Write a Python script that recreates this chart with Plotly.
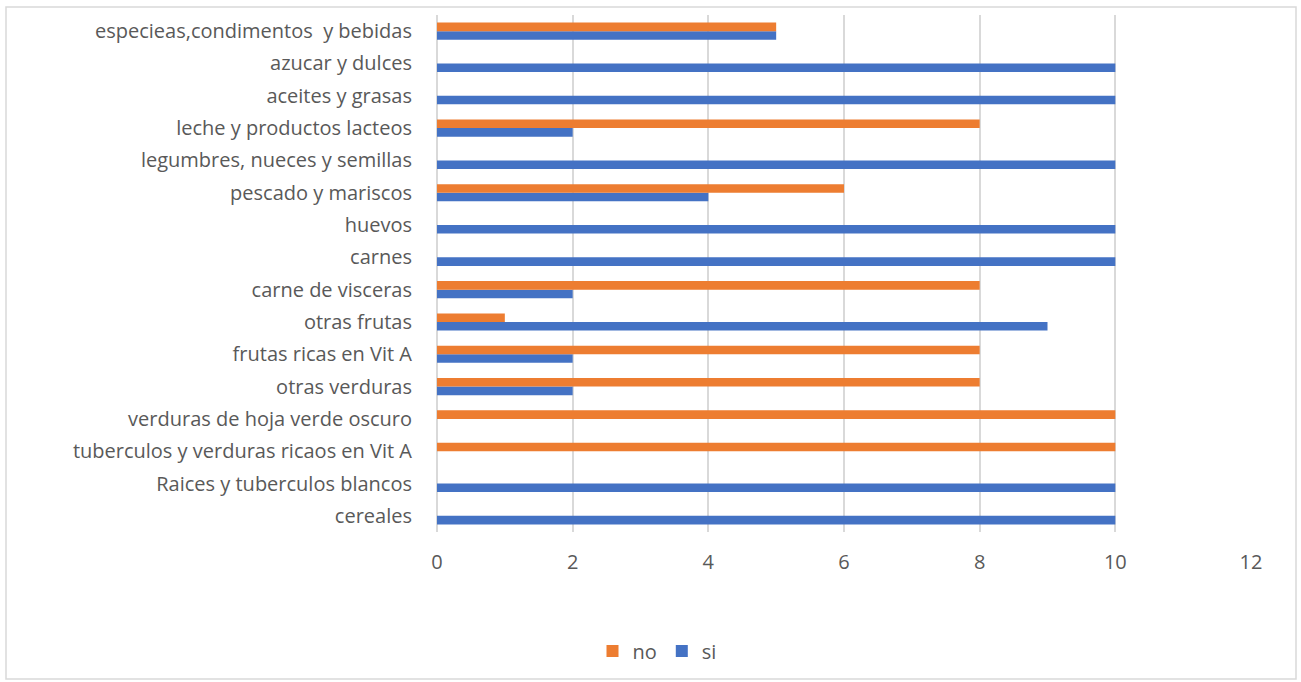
import plotly.graph_objects as go

# Food groups, bottom to top as drawn on the category axis
categorias = [
    "cereales",
    "Raices y tuberculos blancos",
    "tuberculos y verduras ricaos en Vit A",
    "verduras de hoja verde oscuro",
    "otras verduras",
    "frutas ricas en Vit A",
    "otras frutas",
    "carne de visceras",
    "carnes",
    "huevos",
    "pescado y mariscos",
    "legumbres, nueces y semillas",
    "leche y productos lacteos",
    "aceites y grasas",
    "azucar y dulces",
    "especieas,condimentos  y bebidas",
]
si = [10, 10, 0, 0, 2, 2, 9, 2, 10, 10, 4, 10, 2, 10, 10, 5]
no = [0, 0, 10, 10, 8, 8, 1, 8, 0, 0, 6, 0, 8, 0, 0, 5]
x_ticks = [0, 2, 4, 6, 8, 10, 12]

AZUL = "#4472C4"
NARANJA = "#ED7D31"
GRIS_TEXTO = "#595959"
GRIS_REJILLA = "#D9D9D9"
FUENTE = "'Open Sans', Lato, sans-serif"

fig = go.Figure()
fig.add_trace(go.Bar(y=categorias, x=si, name="si", orientation="h",
                     marker=dict(color=AZUL, line=dict(width=0))))
fig.add_trace(go.Bar(y=categorias, x=no, name="no", orientation="h",
                     marker=dict(color=NARANJA, line=dict(width=0))))

# plot area in pixels: x 437..1251, y 15..532
L, R, T, B = 437, 1251, 15, 532
W, H = R - L, B - T


def px_x(p):
    return (p - L) / W


def px_y(p):
    return (B - p) / H


fig.update_layout(
    width=1301, height=682,
    margin=dict(l=L, r=1301 - R, t=T, b=682 - B, pad=0),
    paper_bgcolor="white", plot_bgcolor="white",
    barmode="group", bargap=0.47, bargroupgap=0,
    font=dict(family=FUENTE, color=GRIS_TEXTO, size=19),
    showlegend=True,
    legend=dict(orientation="h", traceorder="reversed",
                x=px_x(657), y=px_y(651), xanchor="center", yanchor="middle",
                font=dict(size=20, color=GRIS_TEXTO), itemwidth=30,
                bgcolor="rgba(0,0,0,0)"),
    xaxis=dict(range=[0, 12], tickvals=x_ticks, showgrid=True,
               gridcolor=GRIS_REJILLA, gridwidth=1.5, zeroline=True,
               zerolinecolor=GRIS_REJILLA, zerolinewidth=1.5,
               showline=False, ticks="", ticklabelstandoff=16,
               tickfont=dict(size=20, color=GRIS_TEXTO)),
    yaxis=dict(categoryorder="array", categoryarray=categorias,
               showgrid=False, showline=False, ticks="",
               ticklabelstandoff=24,
               tickfont=dict(size=20, color=GRIS_TEXTO)),
    shapes=[dict(type="rect", xref="paper", yref="paper",
                 x0=px_x(6), x1=px_x(1296), y0=px_y(679), y1=px_y(7),
                 line=dict(color=GRIS_REJILLA, width=1.5), layer="below")],
)

fig.write_html("out.html")
